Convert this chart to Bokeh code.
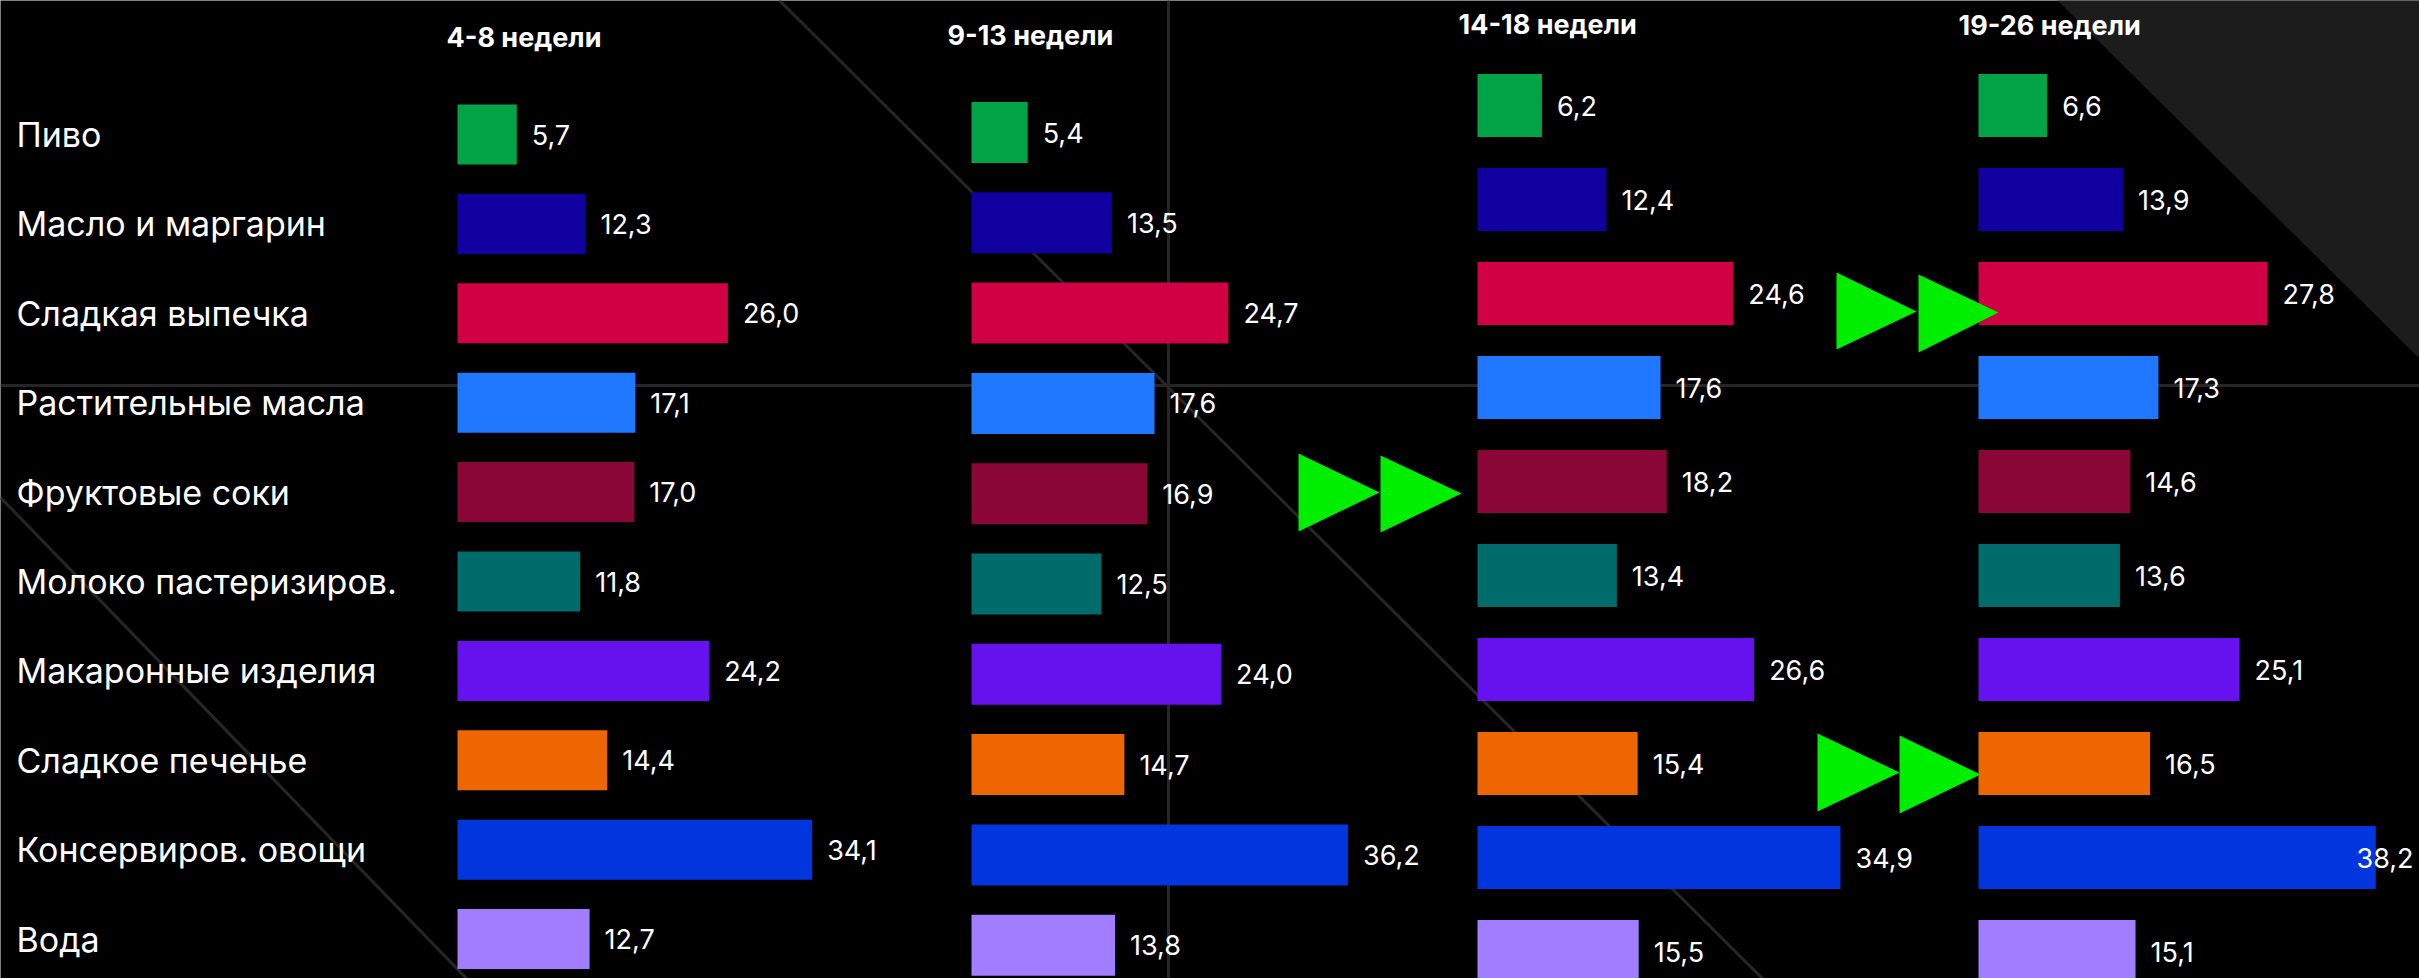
from bokeh.plotting import figure
from bokeh.models import Range1d, ColumnDataSource
from bokeh.core.properties import value
from bokeh.embed import file_html
from bokeh.resources import INLINE

# ---- data ---------------------------------------------------------------
categories = [
    "Пиво",
    "Масло и маргарин",
    "Сладкая выпечка",
    "Растительные масла",
    "Фруктовые соки",
    "Молоко пастеризиров.",
    "Макаронные изделия",
    "Сладкое печенье",
    "Консервиров. овощи",
    "Вода",
]
periods = ["4-8 недели", "9-13 недели", "14-18 недели", "19-26 недели"]
weeks_4_8 = [5.7, 12.3, 26.0, 17.1, 17.0, 11.8, 24.2, 14.4, 34.1, 12.7]
weeks_9_13 = [5.4, 13.5, 24.7, 17.6, 16.9, 12.5, 24.0, 14.7, 36.2, 13.8]
weeks_14_18 = [6.2, 12.4, 24.6, 17.6, 18.2, 13.4, 26.6, 15.4, 34.9, 15.5]
weeks_19_26 = [6.6, 13.9, 27.8, 17.3, 14.6, 13.6, 25.1, 16.5, 38.2, 15.1]
series = [weeks_4_8, weeks_9_13, weeks_14_18, weeks_19_26]
colors = ["#00A346", "#10009F", "#D10044", "#1F78FF", "#8A0636",
          "#006B6B", "#6612EE", "#EE6600", "#0335DF", "#A07EFF"]

# ---- layout -------------------------------------------------------------
W, H = 2419, 978
PX_PER_UNIT = 10.4
panel_left = [457, 971, 1477, 1978]        # pixel where each panel's zero sits
row_first = [134, 132, 105, 105]           # centre of the first row
row_step = [89.4, 90.3, 94.0, 94.0]        # distance between rows
bar_px = [60, 61, 63, 63]                  # bar thickness
title_pos = [(446, 37), (947, 35), (1458, 24), (1958, 25)]

LABEL_FONT = value("Inter")
BG = "#000000"
DECOR = "#262626"
ARROW = "#00EE00"

p = figure(width=W, height=H, x_range=Range1d(0, W), y_range=Range1d(H, 0),
           output_backend="svg", toolbar_location=None, min_border=0,
           x_axis_type=None, y_axis_type=None,
           background_fill_color=BG, border_fill_color=BG,
           outline_line_color=None)
p.xgrid.visible = False
p.ygrid.visible = False

# background decoration
p.patch([2057, W, W], [0, 0, 358], fill_color="#1c1c1c", line_color=None)
p.segment(x0=[0, 1168, 779, 0], y0=[385, 0, 0, 497],
          x1=[W, 1168, 1762, 466], y1=[385, H, 978, 978],
          line_color=DECOR, line_width=3)

# one pair of scales per period
for k, vals in enumerate(series):
    x0 = panel_left[k]
    p.extra_x_ranges[f"x{k}"] = Range1d(-x0 / PX_PER_UNIT, (W - x0) / PX_PER_UNIT)
    p.extra_y_ranges[f"y{k}"] = Range1d((H - row_first[k]) / row_step[k],
                                        -row_first[k] / row_step[k])

for k, vals in enumerate(series):
    idx = list(range(len(categories)))
    src = ColumnDataSource(dict(idx=idx, val=vals, color=colors,
                                txt=[f"{v:.1f}".replace(".", ",") for v in vals]))
    p.hbar(y="idx", left=0, right="val", height=bar_px[k] / row_step[k],
           fill_color="color", line_color=None, source=src,
           x_range_name=f"x{k}", y_range_name=f"y{k}")

    # value labels; a label that would run past the edge is pinned to it
    x0 = panel_left[k]
    fits = [x0 + v * PX_PER_UNIT + 15 + 56 <= W for v in vals]
    inside = ColumnDataSource(dict(
        x=[v for v, f in zip(vals, fits) if f],
        y=[i for i, f in zip(idx, fits) if f],
        t=[t for t, f in zip(src.data["txt"], fits) if f]))
    p.text(x="x", y="y", text="t", source=inside, x_offset=15,
           text_color="white", text_font=LABEL_FONT, text_font_size="27px",
           text_align="left", text_baseline="middle",
           x_range_name=f"x{k}", y_range_name=f"y{k}")
    edge = ColumnDataSource(dict(
        x=[(W - 6 - x0) / PX_PER_UNIT for f in fits if not f],
        y=[i for i, f in zip(idx, fits) if not f],
        t=[t for t, f in zip(src.data["txt"], fits) if not f]))
    p.text(x="x", y="y", text="t", source=edge,
           text_color="white", text_font=LABEL_FONT, text_font_size="27px",
           text_align="right", text_baseline="middle",
           x_range_name=f"x{k}", y_range_name=f"y{k}")

# period titles
p.text(x=[t[0] for t in title_pos], y=[t[1] for t in title_pos], text=periods,
       text_color="white", text_font=LABEL_FONT, text_font_size="27px",
       text_font_style="bold", text_align="left", text_baseline="middle")

# category names, aligned with the first period's rows
p.text(x=[16] * len(categories), y=list(range(len(categories))), text=categories,
       text_color="white", text_font=LABEL_FONT, text_font_size="34px",
       text_align="left", text_baseline="middle", y_range_name="y0")

# fast-forward markers between periods
arrows = [  # (left x, tip x, top y, bottom y, tip y)
    (1298, 1379, 453, 531, 492), (1380, 1461, 455, 532, 493),
    (1836, 1916, 272, 349, 311), (1918, 1998, 274, 352, 312),
    (1817, 1899, 733, 811, 772), (1899, 1980, 735, 813, 774),
]
p.patches(xs=[[a[0], a[0], a[1]] for a in arrows],
          ys=[[a[2], a[3], a[4]] for a in arrows],
          fill_color=ARROW, line_color=None)

open("out.html", "w").write(file_html(p, INLINE))
